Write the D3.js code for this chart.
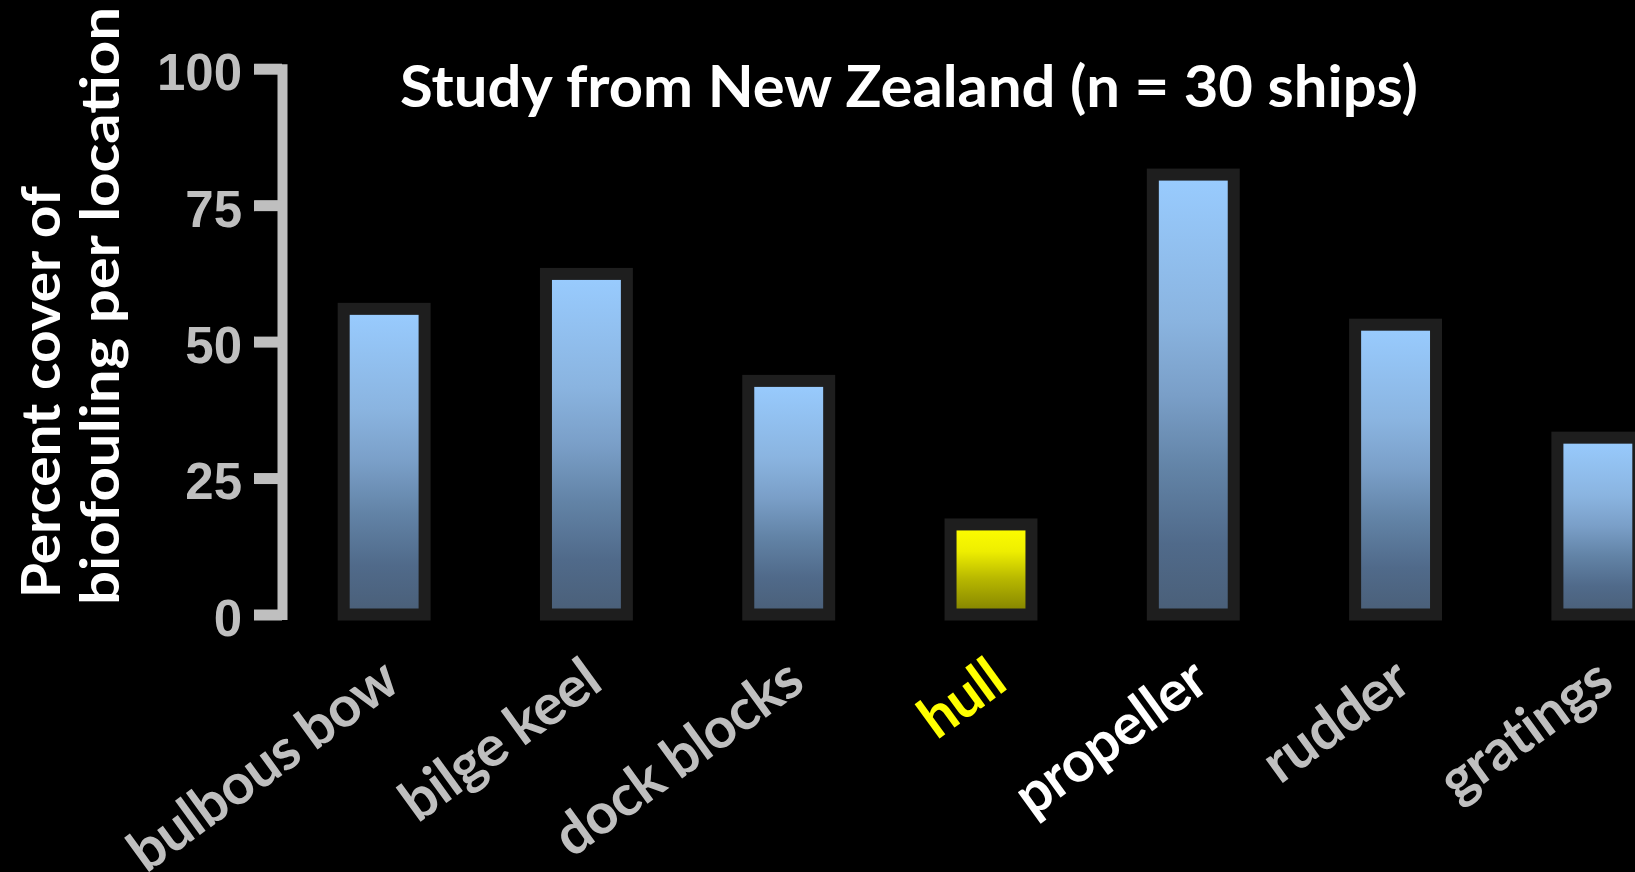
<!DOCTYPE html>
<html>
<head>
<meta charset="utf-8">
<script src="https://cdn.jsdelivr.net/npm/d3@7"></script>
<style>
  html, body { margin: 0; padding: 0; background: #000; }
  svg { display: block; }
</style>
</head>
<body>
<script>
// Percent cover of biofouling by hull location (New Zealand, 30 ships)
const categories = ["bulbous bow", "bilge keel", "dock blocks", "hull", "propeller", "rudder", "gratings"];
const coverValues = [56, 62.4, 42.8, 16.5, 80.6, 53.1, 32.4];
const yTickValues = [0, 25, 50, 75, 100];
const titleText = "Study from New Zealand (n = 30 ships)";
const yTitleLines = ["Percent cover of", "biofouling per location"];

const W = 1635, H = 872;
const svg = d3.select("body").append("svg").attr("width", W).attr("height", H)
  .style("background", "#000");

const defs = svg.append("defs");
function addGradient(id, stops) {
  const g = defs.append("linearGradient").attr("id", id)
    .attr("x1", 0).attr("y1", 0).attr("x2", 0).attr("y2", 1);
  stops.forEach(([o, c]) => g.append("stop").attr("offset", o).attr("stop-color", c));
}
addGradient("blueFill", [[0, "#99ccff"], [0.33, "#8ab4e0"], [0.5, "#7a9fc8"], [0.67, "#6283a6"], [0.84, "#506a8a"], [1, "#4a5f78"]]);
addGradient("yellowFill", [[0, "#ffff00"], [0.3, "#eeee00"], [0.6, "#b8b800"], [1, "#7f7f00"]]);

const x = d3.scaleBand().domain(categories).range([283, 1699])
  .paddingInner(0.6).paddingOuter(0.3);
const y = d3.scaleLinear().domain([0, 100]).range([614.5, 68.7]);

// bars
svg.append("g").selectAll("rect").data(categories.map((c, i) => ({ c, v: coverValues[i] })))
  .join("rect")
  .attr("x", d => x(d.c))
  .attr("width", x.bandwidth())
  .attr("y", d => y(d.v))
  .attr("height", d => y(0) - y(d.v))
  .attr("fill", d => d.c === "hull" ? "url(#yellowFill)" : "url(#blueFill)")
  .attr("stroke", "#1e1e1e")
  .attr("stroke-width", 12);

// y axis
const yAxis = svg.append("g").attr("transform", "translate(282,0)")
  .call(d3.axisLeft(y).tickValues(yTickValues).tickSize(28).tickSizeOuter(0).tickPadding(12));
yAxis.select(".domain").attr("stroke", "#bfbfbf").attr("stroke-width", 10).attr("stroke-linecap", "square");
yAxis.selectAll(".tick line").attr("stroke", "#bfbfbf").attr("stroke-width", 11);
yAxis.selectAll(".tick text")
  .attr("fill", "#bfbfbf")
  .attr("dy", "0.41em")
  .style("font-family", "'Liberation Sans', Arial, sans-serif")
  .style("font-weight", "bold")
  .style("font-size", "51px");

// category labels
const labelColor = { hull: "#ffff00", propeller: "#ffffff" };
svg.append("g").selectAll("text").data(categories).join("text")
  .attr("transform", c => `translate(${x(c) + x.bandwidth() / 2 + 18},688) rotate(-36)`)
  .attr("text-anchor", "end")
  .attr("fill", c => labelColor[c] || "#bfbfbf")
  .style("font-family", "Lato, sans-serif")
  .style("font-weight", "bold")
  .style("font-size", "57px")
  .style("letter-spacing", "-0.8px")
  .text(c => c);

// title
svg.append("text")
  .attr("x", 909).attr("y", 106.7)
  .attr("text-anchor", "middle")
  .attr("fill", "#ffffff")
  .attr("textLength", 1018).attr("lengthAdjust", "spacingAndGlyphs")
  .style("font-family", "Lato, sans-serif")
  .style("font-weight", "bold")
  .style("font-size", "58px")
  .text(titleText);

// y axis title (two lines, rotated)
const yTitle = svg.append("g").attr("transform", "rotate(-90)");
const yTitlePos = [{ base: 60, start: 598, len: 412 }, { base: 119, start: 605, len: 598 }];
yTitleLines.forEach((line, i) => {
  yTitle.append("text")
    .attr("x", -yTitlePos[i].start).attr("y", yTitlePos[i].base)
    .attr("text-anchor", "start")
    .attr("fill", "#ffffff")
    .attr("textLength", yTitlePos[i].len).attr("lengthAdjust", "spacingAndGlyphs")
    .style("font-family", "Lato, sans-serif")
    .style("font-weight", "bold")
    .style("font-size", "53px")
    .text(line);
});
</script>
</body>
</html>
